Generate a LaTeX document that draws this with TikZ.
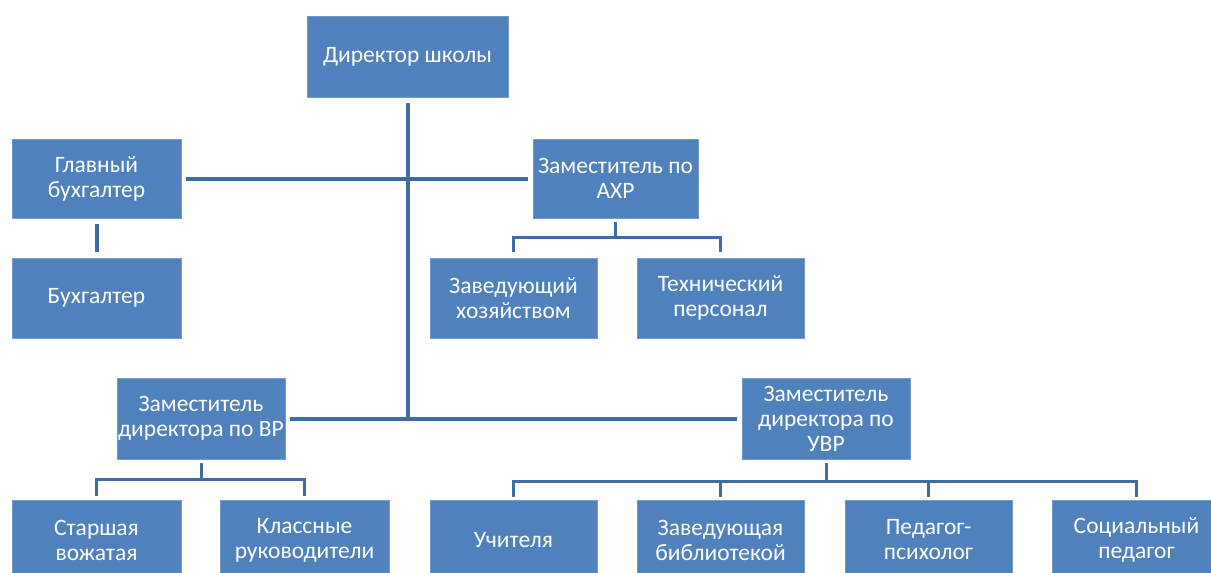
\documentclass[tikz,border=0pt]{standalone}
\usepackage{fontspec}
\setmainfont{Carlito}
\usetikzlibrary{calc}
\definecolor{boxblue}{HTML}{4F81BD}
\definecolor{lineblue}{HTML}{3E6CA3}
\begin{document}
\begin{tikzpicture}[x=1pt,y=-1pt,
  box/.style={fill=boxblue,draw=boxblue!80!white,line width=0.6pt,text=white,align=center,
    inner sep=0pt,font=\fontsize{23.5}{25}\selectfont},
  trunk/.style={draw=lineblue,line width=4pt},
  br/.style={draw=lineblue,line width=3pt,line join=miter}]
\useasboundingbox (0,0) rectangle (1211,573);
\clip (0,0) rectangle (1211,573);
\node[box,minimum width=201pt,minimum height=81pt] (dir) at (407.5,56.5) {Директор школы};
\node[box,minimum width=169pt,minimum height=79pt] (gb) at (96.5,178.5) {Главный\\бухгалтер};
\node[box,minimum width=165pt,minimum height=79pt] (axr) at (615.5,178.5) {Заместитель по\\АХР};
\node[box,minimum width=169pt,minimum height=80pt] (buh) at (96.5,298) {Бухгалтер};
\node[box,minimum width=167pt,minimum height=80pt] (zx) at (513.5,298) {Заведующий\\хозяйством};
\node[box,minimum width=167pt,minimum height=80pt] (tp) at (720.5,298) {Технический\\персонал};
\node[box,minimum width=168pt,minimum height=81pt] (vr) at (201,418.5) {Заместитель\\директора по ВР};
\node[box,minimum width=168pt,minimum height=81pt] (uvr) at (826,418.5) {Заместитель\\директора по\\УВР};
\node[box,minimum width=169pt,minimum height=80pt] (sv) at (96.5,540) {Старшая\\вожатая};
\node[box,minimum width=169pt,minimum height=80pt] (kr) at (304.5,540) {Классные\\руководители};
\node[box,minimum width=167pt,minimum height=80pt] (uch) at (513.5,540) {Учителя};
\node[box,minimum width=167pt,minimum height=80pt] (zb) at (720.5,540) {Заведующая\\библиотекой};
\node[box,minimum width=167pt,minimum height=80pt] (pp) at (928.5,540) {Педагог-\\психолог};
\node[box,minimum width=169pt,minimum height=80pt] (sp) at (1136.5,540) {Социальный\\педагог};
% trunk
\coordinate (j) at ($(dir.south |- vr.center)$);
\draw[trunk] ([yshift=-6pt]dir.south) -- (j);
\draw[trunk] ([xshift=5pt]gb.east) -- ([xshift=-5pt]axr.west);
\draw[trunk] ([xshift=5pt]vr.east) -- ([xshift=-5pt]uvr.west);
\draw[trunk] ([yshift=-6pt]gb.south) -- ([yshift=6pt]buh.north);
% AXR bracket
\draw[br] ([yshift=-4pt]axr.south) -- ++(0,16);
\draw[br] ([yshift=6pt]zx.north) -- ++(0,-14) -| ([yshift=6pt]tp.north);
% VR bracket
\draw[br] ([yshift=-4pt]vr.south) -- ++(0,17);
\draw[br] ([yshift=4pt]sv.north) -- ++(0,-16) -| ([yshift=4pt]kr.north);
% UVR bracket
\draw[br] ([yshift=-4pt]uvr.south) -- ++(0,19);
\draw[br] ([yshift=3pt]uch.north) -- ++(0,-15) -| ([yshift=3pt]sp.north);
\draw[br] ([yshift=3pt]zb.north) -- ++(0,-15);
\draw[br] ([yshift=3pt]pp.north) -- ++(0,-15);
\end{tikzpicture}
\end{document}
